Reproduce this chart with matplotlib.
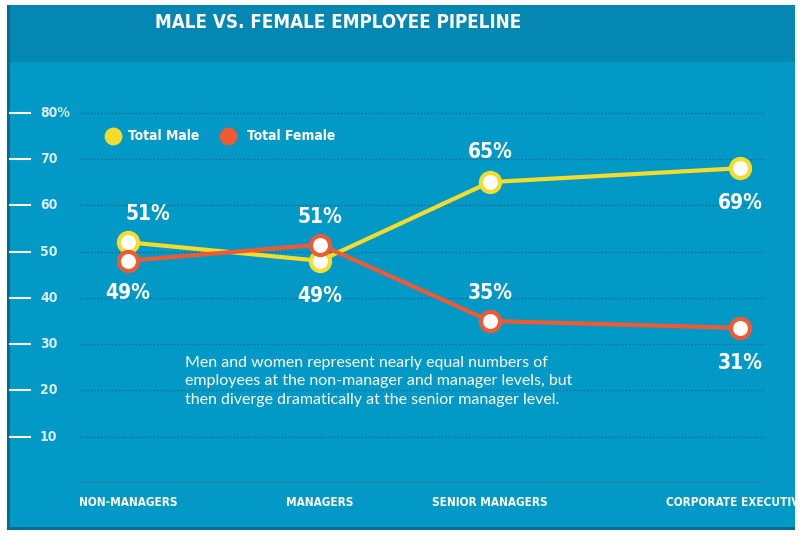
import matplotlib
matplotlib.use("Agg")
import matplotlib.pyplot as plt
from matplotlib.patches import Rectangle
from matplotlib.transforms import blended_transform_factory

plt.rcParams['font.family'] = ['DejaVu Sans']
plt.rcParams['font.stretch'] = 'condensed'

categories = ['NON-MANAGERS', 'MANAGERS', 'SENIOR MANAGERS', 'CORPORATE EXECUTIVES']
male = [52, 48, 65, 68]
female = [48, 51.5, 35, 33.5]
male_labels = ['51%', '49%', '65%', '69%']
female_labels = ['49%', '51%', '35%', '31%']
yticks = [10, 20, 30, 40, 50, 60, 70, 80]
ytick_labels = ['10', '20', '30', '40', '50', '60', '70', '80%']

# layout (pixel positions of categories)
xpos = [128, 320, 490, 740]
BG = '#0399c7'
BAND = '#0487b2'
YEL = '#f5dc2a'
RED = '#f05a32'

fig = plt.figure(figsize=(8.06, 5.41), dpi=100)
bg = fig.add_axes([0, 0, 1, 1])
bg.set_xlim(0, 806); bg.set_ylim(541, 0); bg.axis('off')
bg.add_patch(Rectangle((7, 5), 788, 525, color=BG, lw=0))
bg.add_patch(Rectangle((7, 5), 788, 57, color=BAND, lw=0))
bg.add_patch(Rectangle((7, 5), 3, 525, color='#036d90', lw=0))
bg.add_patch(Rectangle((7, 527), 788, 3, color='#036d90', lw=0))
bg.text(338, 22, 'MALE VS. FEMALE EMPLOYEE PIPELINE', color='white', fontsize=13.5,
        fontweight='bold', ha='center', va='center')

ax = fig.add_axes([80/806, (541-483)/541, (765-80)/806, (483-89.5)/541])
ax.set_xlim(80, 765)
ax.set_ylim(0, 85)
ax.axis('off')
for t in yticks:
    ax.axhline(t, color='#076b8c', lw=1, ls=(0, (1, 1.5)))
ax.axhline(0, color='#2a7fa0', lw=1.5)

tr = blended_transform_factory(fig.transFigure, ax.transData)
for t, lab in zip(yticks, ytick_labels):
    ax.plot([10/806, 30/806], [t, t], color='white', lw=1.5, transform=tr, clip_on=False)
    ax.text(40/806, t, lab, color='#d8eef6', fontsize=10, fontweight='bold', va='center',
            transform=tr)

ax.plot(xpos, male, color=YEL, lw=3, zorder=3)
ax.plot(xpos, female, color=RED, lw=3, zorder=3)
ax.scatter(xpos, male, s=190, facecolor='white', edgecolor=YEL, lw=3, zorder=4)
ax.scatter(xpos, female, s=190, facecolor='white', edgecolor=RED, lw=3, zorder=4)

moff = [(20, 6), (0, -7.5), (0, 6.5), (0, -7.5)]
foff = [(0, -7), (0, 6), (0, 6), (0, -7.5)]
for x, y, lab, (dx, dy) in zip(xpos, male, male_labels, moff):
    ax.text(x + dx, y + dy, lab, color='white', fontsize=15, fontweight='bold', ha='center', va='center')
for x, y, lab, (dx, dy) in zip(xpos, female, female_labels, foff):
    ax.text(x + dx, y + dy, lab, color='white', fontsize=15, fontweight='bold', ha='center', va='center')

ax.scatter([113], [75], s=140, color=YEL, zorder=4)
ax.text(128, 75, 'Total Male', color='white', fontsize=10, fontweight='bold', va='center')
ax.scatter([228], [75], s=140, color=RED, zorder=4)
ax.text(247, 75, 'Total Female', color='white', fontsize=10, fontweight='bold', va='center')

ax.text(185, 22, 'Men and women represent nearly equal numbers of\n'
        'employees at the non-manager and manager levels, but\n'
        'then diverge dramatically at the senior manager level.',
        color='white', fontsize=11.5, va='center', linespacing=1.4,
        family=['Lato', 'DejaVu Sans'], fontstretch='normal')

for x, c in zip(xpos, categories):
    bg.text(x, 503, c, color='white', fontsize=8.5, fontweight='bold', ha='center', va='center')

fig.savefig('out.png', dpi=100)
